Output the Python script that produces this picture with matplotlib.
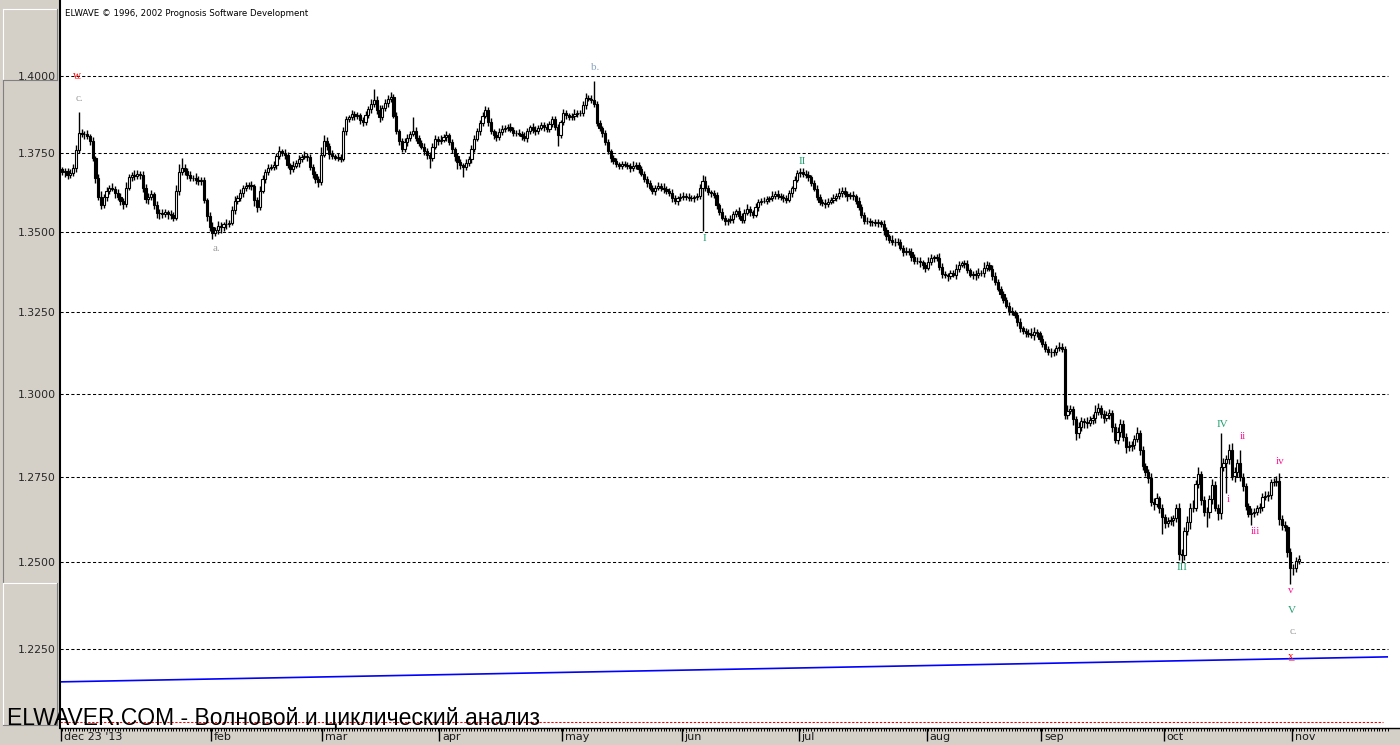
import matplotlib as mpl
mpl.use('Agg')
from matplotlib import pyplot as plt
from matplotlib.lines import Line2D
from matplotlib.ticker import NullLocator, FixedLocator
import numpy as np

plt.rcParams['font.family'] = ['DejaVu Sans']

# 12-hour candles, dec 23 '13 .. nov 4 '14
first_open = 1.3700
closes = [
    1.3689, 1.3694, 1.3680, 1.3688, 1.3702, 1.3760, 1.3816, 1.3812, 1.3811, 1.3805,
    1.3790, 1.3735, 1.3670, 1.3612, 1.3584, 1.3610, 1.3631, 1.3640, 1.3636, 1.3622,
    1.3610, 1.3598, 1.3589, 1.3640, 1.3673, 1.3681, 1.3676, 1.3684, 1.3680, 1.3640,
    1.3603, 1.3612, 1.3619, 1.3585, 1.3561, 1.3560, 1.3556, 1.3562, 1.3556, 1.3552,
    1.3545, 1.3630, 1.3691, 1.3702, 1.3694, 1.3680, 1.3670, 1.3672, 1.3666, 1.3660,
    1.3663, 1.3600, 1.3550, 1.3515, 1.3498, 1.3505, 1.3519, 1.3515, 1.3524, 1.3526,
    1.3529, 1.3570, 1.3598, 1.3606, 1.3624, 1.3640, 1.3645, 1.3648, 1.3645, 1.3600,
    1.3579, 1.3630, 1.3667, 1.3690, 1.3703, 1.3706, 1.3712, 1.3740, 1.3757, 1.3752,
    1.3744, 1.3712, 1.3700, 1.3710, 1.3718, 1.3733, 1.3739, 1.3741, 1.3738, 1.3705,
    1.3684, 1.3668, 1.3657, 1.3745, 1.3790, 1.3772, 1.3747, 1.3740, 1.3736, 1.3738,
    1.3733, 1.3820, 1.3859, 1.3866, 1.3875, 1.3870, 1.3872, 1.3858, 1.3850, 1.3872,
    1.3891, 1.3910, 1.3923, 1.3890, 1.3867, 1.3895, 1.3912, 1.3925, 1.3932, 1.3870,
    1.3821, 1.3790, 1.3763, 1.3785, 1.3800, 1.3812, 1.3821, 1.3800, 1.3784, 1.3770,
    1.3757, 1.3745, 1.3736, 1.3770, 1.3795, 1.3790, 1.3793, 1.3802, 1.3808, 1.3785,
    1.3763, 1.3740, 1.3723, 1.3712, 1.3707, 1.3718, 1.3731, 1.3765, 1.3797, 1.3822,
    1.3846, 1.3870, 1.3888, 1.3850, 1.3821, 1.3810, 1.3802, 1.3818, 1.3829, 1.3832,
    1.3835, 1.3825, 1.3816, 1.3815, 1.3813, 1.3806, 1.3800, 1.3820, 1.3834, 1.3826,
    1.3821, 1.3832, 1.3840, 1.3833, 1.3827, 1.3845, 1.3859, 1.3835, 1.3808, 1.3850,
    1.3880, 1.3872, 1.3866, 1.3870, 1.3877, 1.3879, 1.3880, 1.3905, 1.3928, 1.3926,
    1.3923, 1.3910, 1.3846, 1.3830, 1.3814, 1.3785, 1.3757, 1.3735, 1.3724, 1.3715,
    1.3710, 1.3714, 1.3713, 1.3708, 1.3702, 1.3710, 1.3713, 1.3698, 1.3684, 1.3668,
    1.3654, 1.3640, 1.3629, 1.3640, 1.3645, 1.3640, 1.3636, 1.3630, 1.3623, 1.3608,
    1.3597, 1.3606, 1.3612, 1.3615, 1.3612, 1.3608, 1.3607, 1.3610, 1.3613, 1.3640,
    1.3662, 1.3640, 1.3626, 1.3622, 1.3617, 1.3585, 1.3563, 1.3545, 1.3533, 1.3537,
    1.3541, 1.3556, 1.3565, 1.3550, 1.3539, 1.3560, 1.3573, 1.3562, 1.3554, 1.3578,
    1.3594, 1.3598, 1.3599, 1.3604, 1.3607, 1.3615, 1.3620, 1.3614, 1.3610, 1.3606,
    1.3602, 1.3622, 1.3638, 1.3665, 1.3687, 1.3690, 1.3685, 1.3680, 1.3673, 1.3655,
    1.3636, 1.3612, 1.3594, 1.3590, 1.3589, 1.3596, 1.3602, 1.3608, 1.3613, 1.3624,
    1.3631, 1.3620, 1.3613, 1.3616, 1.3613, 1.3598, 1.3578, 1.3555, 1.3536, 1.3533,
    1.3531, 1.3530, 1.3528, 1.3530, 1.3526, 1.3505, 1.3487, 1.3475, 1.3467, 1.3470,
    1.3469, 1.3450, 1.3437, 1.3440, 1.3437, 1.3422, 1.3410, 1.3408, 1.3405, 1.3395,
    1.3388, 1.3405, 1.3418, 1.3420, 1.3419, 1.3390, 1.3369, 1.3365, 1.3363, 1.3370,
    1.3366, 1.3385, 1.3397, 1.3402, 1.3400, 1.3380, 1.3366, 1.3368, 1.3366, 1.3372,
    1.3370, 1.3388, 1.3397, 1.3385, 1.3363, 1.3345, 1.3322, 1.3305, 1.3288, 1.3270,
    1.3254, 1.3250, 1.3241, 1.3220, 1.3200, 1.3192, 1.3185, 1.3182, 1.3179, 1.3188,
    1.3185, 1.3168, 1.3151, 1.3138, 1.3127, 1.3126, 1.3127, 1.3140, 1.3144, 1.3138,
    1.2937, 1.2948, 1.2954, 1.2925, 1.2882, 1.2900, 1.2917, 1.2915, 1.2912, 1.2922,
    1.2927, 1.2945, 1.2957, 1.2940, 1.2927, 1.2935, 1.2942, 1.2900, 1.2861, 1.2885,
    1.2910, 1.2870, 1.2839, 1.2842, 1.2846, 1.2865, 1.2881, 1.2830, 1.2783, 1.2765,
    1.2749, 1.2677, 1.2671, 1.2687, 1.2660, 1.2632, 1.2614, 1.2619, 1.2622, 1.2629,
    1.2658, 1.2524, 1.2521, 1.2592, 1.2617, 1.2660, 1.2660, 1.2731, 1.2759, 1.2682,
    1.2648, 1.2648, 1.2684, 1.2726, 1.2660, 1.2643, 1.2779, 1.2791, 1.2803, 1.2831,
    1.2753, 1.2766, 1.2791, 1.2751, 1.2724, 1.2665, 1.2641, 1.2645, 1.2648, 1.2658,
    1.2663, 1.2692, 1.2694, 1.2697, 1.2736, 1.2735, 1.2740, 1.2626, 1.2609, 1.2602,
    1.2530, 1.2484, 1.2482, 1.2504, 1.2510,
]
# wick lengths in pips above / below the body
upper_wick = [
    6, 10, 8, 12, 14, 16, 68, 12, 10, 14, 8, 12, 6, 15, 18, 10, 12, 8, 14, 10,
    15, 12, 8, 18, 12, 10, 16, 12, 8, 14, 12, 10, 15, 8, 12, 10, 14, 10, 8, 12,
    10, 20, 24, 32, 15, 10, 12, 8, 14, 10, 12, 10, 8, 12, 15, 10, 14, 12, 8, 16,
    10, 12, 15, 10, 12, 8, 14, 10, 12, 8, 10, 15, 12, 10, 14, 8, 12, 10, 15, 8,
    12, 10, 8, 14, 10, 12, 8, 15, 10, 8, 12, 10, 8, 24, 18, 12, 10, 14, 8, 12,
    10, 15, 12, 8, 14, 10, 12, 8, 10, 14, 12, 16, 34, 12, 15, 10, 14, 12, 16, 10,
    12, 8, 10, 14, 12, 10, 46, 12, 10, 8, 12, 10, 8, 14, 12, 10, 15, 10, 12, 8,
    10, 8, 12, 10, 8, 14, 10, 12, 10, 8, 12, 14, 15, 10, 12, 8, 10, 14, 12, 10,
    8, 12, 10, 8, 14, 10, 12, 10, 8, 12, 10, 8, 12, 10, 14, 8, 10, 12, 10, 8,
    12, 10, 8, 10, 14, 10, 8, 12, 18, 10, 12, 61, 10, 12, 8, 10, 12, 8, 10, 12,
    8, 10, 12, 8, 10, 14, 10, 8, 12, 10, 8, 12, 10, 8, 12, 10, 14, 10, 8, 12,
    10, 8, 12, 10, 8, 12, 10, 8, 10, 12, 18, 14, 10, 8, 12, 10, 8, 12, 10, 8,
    12, 10, 8, 14, 10, 12, 15, 10, 8, 12, 10, 8, 12, 10, 8, 14, 10, 12, 8, 10,
    12, 10, 8, 12, 10, 12, 13, 10, 12, 8, 10, 12, 8, 10, 14, 10, 8, 12, 10, 16,
    10, 12, 8, 10, 14, 8, 12, 10, 8, 12, 10, 8, 12, 10, 8, 12, 10, 8, 14, 10,
    12, 10, 8, 12, 10, 14, 8, 10, 12, 8, 10, 16, 12, 8, 10, 14, 12, 10, 8, 12,
    10, 15, 12, 8, 10, 12, 8, 10, 12, 15, 10, 18, 12, 8, 10, 12, 8, 10, 12, 8,
    10, 12, 8, 10, 12, 8, 10, 12, 18, 15, 10, 8, 12, 10, 8, 12, 10, 8, 15, 10,
    8, 18, 12, 10, 8, 15, 12, 10, 14, 10, 12, 20, 15, 10, 12, 14, 12, 10, 12, 15,
    14, 10, 12, 15, 12, 10, 18, 10, 12, 8, 10, 12, 10, 15, 8, 12, 10, 14, 12, 10,
    12, 15, 14, 12, 18, 15, 22, 12, 20, 10, 12, 15, 14, 18, 12, 10, 102, 15, 12, 18,
    20, 15, 12, 41, 12, 8, 10, 14, 12, 10, 12, 10, 14, 12, 10, 12, 15, 21, 12, 10,
    8, 12, 10, 12, 10,
]
lower_wick = [
    10, 15, 12, 8, 10, 12, 8, 10, 14, 8, 12, 10, 15, 12, 10, 8, 12, 10, 8, 14,
    10, 12, 15, 10, 8, 12, 10, 8, 12, 15, 12, 14, 10, 12, 16, 20, 12, 10, 14, 12,
    10, 8, 12, 10, 15, 12, 10, 8, 14, 10, 12, 10, 15, 12, 20, 10, 12, 18, 12, 15,
    10, 8, 12, 10, 8, 12, 10, 8, 12, 18, 15, 10, 8, 12, 10, 8, 10, 12, 8, 10,
    12, 10, 15, 10, 8, 12, 10, 8, 12, 10, 14, 12, 16, 10, 8, 12, 14, 10, 8, 12,
    10, 8, 12, 10, 8, 12, 10, 15, 12, 10, 8, 12, 10, 14, 18, 10, 8, 12, 10, 8,
    10, 12, 8, 10, 12, 10, 8, 12, 10, 8, 12, 15, 32, 10, 8, 12, 10, 8, 12, 10,
    12, 15, 23, 12, 34, 10, 8, 12, 10, 8, 12, 10, 8, 12, 10, 15, 12, 10, 8, 12,
    10, 8, 12, 10, 8, 12, 10, 14, 8, 10, 12, 10, 8, 12, 10, 8, 12, 10, 35, 8,
    10, 12, 8, 10, 12, 10, 8, 10, 12, 8, 10, 12, 10, 8, 12, 10, 8, 12, 10, 8,
    10, 12, 8, 10, 12, 8, 10, 12, 8, 10, 12, 8, 10, 12, 8, 10, 12, 10, 8, 12,
    10, 12, 8, 10, 12, 10, 8, 12, 10, 8, 138, 10, 8, 12, 10, 14, 10, 8, 12, 10,
    8, 12, 10, 8, 12, 10, 8, 12, 10, 8, 12, 10, 8, 12, 10, 8, 12, 10, 8, 12,
    10, 8, 12, 10, 8, 12, 10, 8, 12, 10, 8, 12, 10, 8, 12, 10, 8, 12, 10, 8,
    12, 10, 15, 8, 12, 10, 8, 12, 10, 8, 12, 10, 8, 12, 10, 15, 12, 10, 8, 12,
    10, 8, 12, 10, 8, 12, 10, 8, 15, 10, 12, 8, 10, 12, 10, 8, 12, 10, 15, 10,
    8, 12, 10, 8, 12, 10, 8, 12, 15, 10, 8, 12, 10, 8, 12, 10, 8, 12, 10, 8,
    12, 10, 8, 12, 10, 8, 12, 10, 8, 15, 12, 10, 8, 12, 10, 15, 12, 10, 8, 12,
    12, 12, 10, 18, 22, 15, 12, 18, 14, 10, 12, 15, 10, 12, 14, 10, 12, 15, 10, 12,
    15, 12, 18, 10, 14, 12, 10, 15, 12, 10, 15, 12, 18, 10, 15, 50, 14, 12, 10, 15,
    12, 18, 22, 15, 12, 20, 14, 10, 12, 15, 12, 46, 18, 12, 10, 20, 18, 12, 88, 15,
    12, 18, 15, 12, 14, 12, 10, 33, 12, 10, 14, 12, 10, 15, 12, 10, 12, 18, 15, 12,
    15, 47, 18, 12, 10,
]

price_levels = [1.2250, 1.2500, 1.2750, 1.3000, 1.3250, 1.3500, 1.3750, 1.4000]
month_labels = ["dec 23 '13", 'feb', 'mar', 'apr', 'may', 'jun', 'jul', 'aug', 'sep', 'oct', 'nov']
month_start = [0, 54, 94, 136, 180, 223, 265, 311, 352, 396, 442]

target_level = 1.2043            # red dashed line
trend_bars = [-0.7, 475.8]       # blue trend line
trend_prices = [1.2156, 1.2227]

# wave marks: text, bar, price, colour
wave_labels = [
    ('w', 5.4, 1.4003, '#ff0000'),
    ('c.', 6.1, 1.3925, '#a0a0a0'),
    ('a.', 55.3, 1.3447, '#a0a0a0'),
    ('b.', 191.4, 1.4026, '#8aa4c4'),
    ('I', 230.5, 1.3481, '#1f9f6f'),
    ('II', 265.7, 1.3722, '#1f9f6f'),
    ('III', 402.2, 1.2483, '#1f9f6f'),
    ('IV', 416.5, 1.2909, '#1f9f6f'),
    ('i', 418.7, 1.2683, '#ff1493'),
    ('ii', 424.1, 1.2870, '#ff1493'),
    ('iii', 428.4, 1.2591, '#ff1493'),
    ('iv', 437.3, 1.2796, '#ff1493'),
    ('v', 441.3, 1.2417, '#ff1493'),
    ('V', 441.7, 1.2359, '#1f9f6f'),
    ('c.', 442.0, 1.2299, '#a0a0a0'),
    ('x', 441.3, 1.2227, '#ff0000'),
]

W, H = 1400, 745
fig = plt.figure(figsize=(W / 100, H / 100), dpi=100, facecolor='#d4d0c8')
ax = fig.add_axes([60 / W, 17 / H, 1340 / W, 728 / H])
ax.set_facecolor('white')

closes_a = np.array(closes)
opens_a = np.concatenate([[first_open], closes_a[:-1]])
highs = np.maximum(opens_a, closes_a) + np.array(upper_wick) / 10000
lows = np.minimum(opens_a, closes_a) - np.array(lower_wick) / 10000
bars = np.arange(len(closes_a))

ax.set_yscale('log')
ax.set_xlim(-0.72, 480.4)
ax.set_ylim(1.2026, 1.4250)

# grid
ax.hlines(price_levels, -0.72, 476.1, colors='black', linewidth=0.75,
          linestyles=(0, (3, 2.2)), zorder=1)
ax.hlines([target_level], -0.72, 474.3, colors='#ff0000', linewidth=0.75,
          linestyles=(0, (2.2, 1.6)), zorder=1)
ax.plot(trend_bars, trend_prices, color='#0000ff', linewidth=1.2, zorder=2)

# candles
ax.vlines(bars, lows, highs, colors='black', linewidth=1.0, zorder=3)
up = closes_a >= opens_a
ax.bar(bars, np.abs(closes_a - opens_a), bottom=np.minimum(opens_a, closes_a),
       width=0.8, color=np.where(up, 'white', 'black'), edgecolor='black',
       linewidth=0.8, zorder=4)

for txt, b, p, col in wave_labels:
    ax.text(b, p, txt, color=col, fontsize=8, family='Liberation Serif',
            ha='center', va='center', zorder=6)
    if txt in ('w', 'x'):
        ax.text(b, p, '_', color=col, fontsize=8, family='Liberation Serif',
                ha='center', va='center', zorder=6)

# y axis labels on the grey panel
ax.yaxis.set_major_locator(FixedLocator(price_levels))
ax.yaxis.set_minor_locator(NullLocator())
ax.set_yticklabels(['%.4f' % v for v in price_levels])
ax.tick_params(axis='y', length=0, pad=3, labelsize=7.8, labelcolor='#262626')

# x axis: month ticks and a tick per bar
ax.xaxis.set_major_locator(FixedLocator([m - 0.5 for m in month_start]))
ax.xaxis.set_minor_locator(FixedLocator(np.arange(0, 477)))
ax.set_xticklabels([])
ax.tick_params(axis='x', which='major', length=9.5, width=1.0, direction='out')
ax.tick_params(axis='x', which='minor', length=2.2, width=0.7, direction='out')
for lab, m in zip(month_labels, month_start):
    ax.annotate(lab, xy=(m - 0.5, 0), xycoords=('data', 'axes fraction'),
                xytext=(3, -9), textcoords='offset pixels', ha='left', va='center',
                fontsize=8, color='#1a1a1a', annotation_clip=False)

for s in ('top', 'right'):
    ax.spines[s].set_visible(False)
ax.spines['left'].set_linewidth(1.5)
ax.spines['bottom'].set_linewidth(1.0)


def fline(x0, y0, x1, y1, col):
    fig.add_artist(Line2D([x0 / W, x1 / W], [1 - y0 / H, 1 - y1 / H],
                          color=col, linewidth=0.8))


# bevelled boxes of the price panel
fline(3, 9, 57, 9, 'white')
fline(3, 9, 3, 80, 'white')
fline(57, 9, 57, 80, '#808080')
fline(3, 80, 57, 80, '#808080')
fline(3, 80, 3, 583, '#808080')
fline(3, 583, 57, 583, 'white')
fline(3, 583, 3, 725, 'white')
fline(57, 583, 57, 725, '#808080')
fline(3, 725, 57, 725, '#808080')

fig.text(65 / W, 1 - 13 / H, 'ELWAVE \u00a9 1996, 2002 Prognosis Software Development',
         fontsize=6.2, color='black', va='center', ha='left')
fig.text(7 / W, 1 - 725 / H, 'ELWAVER.COM - Волновой и циклический анализ',
         fontsize=16.5, family='Liberation Sans', color='black', va='baseline', ha='left')

fig.savefig('out.png', dpi=100, facecolor=fig.get_facecolor())
